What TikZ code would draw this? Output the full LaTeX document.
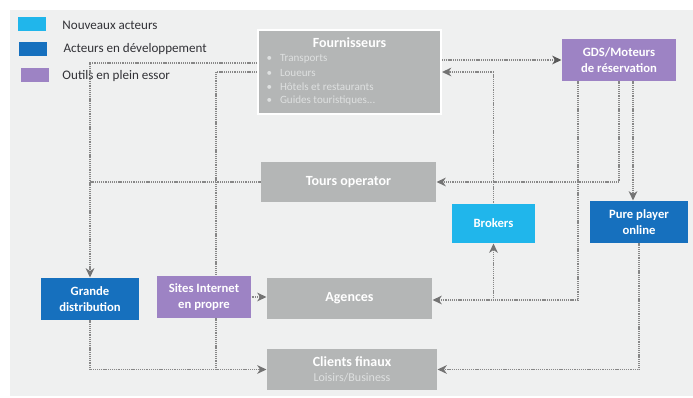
\documentclass[tikz,border=0pt]{standalone}
\usepackage{fontspec}
\setmainfont{Carlito}
\usetikzlibrary{arrows.meta}

\definecolor{panel}{RGB}{239,240,240}
\definecolor{boxgray}{RGB}{180,182,182}
\definecolor{newcyan}{RGB}{32,182,235}
\definecolor{devblue}{RGB}{22,112,190}
\definecolor{toolpurple}{RGB}{157,131,196}
\definecolor{linegray}{RGB}{135,135,135}
\definecolor{tipgray}{RGB}{115,115,115}
\definecolor{legendtext}{RGB}{50,50,55}
\definecolor{bulletgray}{RGB}{222,224,224}

\tikzset{every picture/.style={line width=0.75pt}}
\tikzset{
  box/.style={inner sep=0.75pt, text=white, align=center, font=\bfseries\fontsize{9.5}{11.5}\selectfont},
  graybox/.style={box, fill=boxgray, font=\bfseries\fontsize{10.5}{12}\selectfont},
  cyanbox/.style={box, fill=newcyan},
  bluebox/.style={box, fill=devblue},
  purplebox/.style={box, fill=toolpurple},
  swatch/.style={minimum width=21pt, minimum height=10.5pt, inner sep=0pt},
  legendlabel/.style={anchor=west, inner sep=0.75pt, text=legendtext, font=\fontsize{9.8}{11}\selectfont},
  bulletlabel/.style={anchor=west, inner sep=0.75pt, text=bulletgray, font=\fontsize{8.3}{9}\selectfont},
  flow/.style={draw=linegray, line width=1.2pt, dash pattern=on 0.8pt off 0.6pt},
  tip/.style={-{Stealth[length=7pt,width=6.5pt,inset=2.2pt,color=tipgray]}},
  darktip/.style={-{Stealth[length=7pt,width=6.5pt,inset=2.2pt,color=black!65]}}
}

\begin{document}
\begin{tikzpicture}[x=0.75pt,y=0.75pt,yscale=-1,xscale=1]
\useasboundingbox (0,0) rectangle (693,398);
% panel
\fill [panel] (10,10) rectangle (693,396);

% Legend
\node [swatch, fill=newcyan] (swnew) at (32,24) {};
\node [swatch, fill=devblue] (swdev) at (33,49.5) {};
\node [swatch, fill=toolpurple] (swtool) at (34.5,75.5) {};
\node [legendlabel] (lbnew) at (61,25) {Nouveaux acteurs};
\node [legendlabel] (lbdev) at (62,49) {Acteurs en développement};
\node [legendlabel] (lbtool) at (61,76) {Outils en plein essor};

% Boxes
\node [graybox, draw=white, line width=1.5pt, minimum width=137.25pt, minimum height=63pt] (four) at (349.5,72) {};
\node [box, font=\bfseries\fontsize{10.5}{12}\selectfont] (fourtitle) at (349.5,43) {Fournisseurs};
\node [bulletlabel] (bltrans) at (265,59) {\textbullet\hspace{6pt}Transports};
\node [bulletlabel] (blloue) at (265,73) {\textbullet\hspace{6pt}Loueurs};
\node [bulletlabel] (blhotel) at (265,87) {\textbullet\hspace{6pt}Hôtels et restaurants};
\node [bulletlabel] (blguide) at (265,101) {\textbullet\hspace{6pt}Guides touristiques...};

\node [purplebox, minimum width=85.5pt, minimum height=31.5pt] (gds) at (619,60) {GDS/Moteurs\\de réservation};
\node [graybox, minimum width=131.25pt, minimum height=30pt] (tours) at (348.5,182) {Tours operator};
\node [cyanbox, minimum width=62.25pt, minimum height=29.25pt] (brok) at (493.5,223.5) {Brokers};
\node [bluebox, minimum width=73.5pt, minimum height=31.5pt] (pure) at (639,222) {Pure player\\online};
\node [bluebox, minimum width=73.5pt, minimum height=31.5pt] (grande) at (90,299) {Grande\\distribution};
\node [purplebox, minimum width=70.5pt, minimum height=31.5pt] (sites) at (204,297) {Sites Internet\\en propre};
\node [graybox, minimum width=123.75pt, minimum height=30.75pt] (agen) at (349.5,298.5) {Agences};
\node [graybox, minimum width=127.5pt, minimum height=30.75pt] (clients) at (352,369.5) {Clients finaux\\[-1pt]{\mdseries\fontsize{9}{10}\selectfont\color{bulletgray}Loisirs/Business}};

% Connectors
\draw [flow, darktip] (four.east |- gds.west) -- (gds.west);
\draw [flow, tip] (brok.north) |- (four.east);
\draw [flow, tip] (gds.south) |- (tours.east);
\draw [flow, tip] (gds.south -| 633,0) -- (pure.north -| 633,0);
\draw [flow, tip] (gds.south -| 578,0) |- (agen.east |- 0,300);
\draw [flow, tip] (brok.south |- 0,300) -- (brok.south);
\draw [flow, tip] (pure.south) |- (clients.east);
\draw [flow, tip] (four.west |- 0,63) -| (grande.north);
\draw [flow] (tours.west) -- (tours.west -| grande.north);
\draw [flow] (four.west) -| (sites.north -| 216,0);
\draw [flow, tip] (sites.east) -- (sites.east -| agen.west);
\draw [flow, tip] (grande.south) |- (clients.west);
\draw [flow] (sites.south -| 216,0) -- (clients.west -| 216,0);

\end{tikzpicture}
\end{document}
